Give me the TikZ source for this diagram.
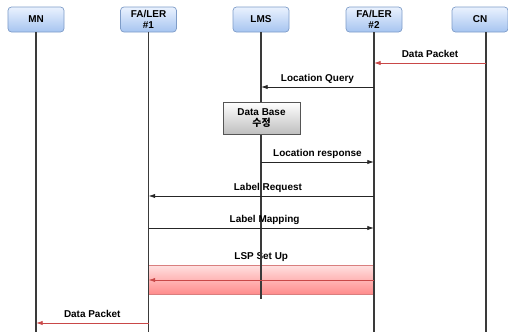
\documentclass[tikz,border=0pt]{standalone}
\usepackage{fontspec}
\setmainfont{Liberation Sans}
\newfontfamily\krfont{Noto Sans CJK KR}
\usetikzlibrary{arrows.meta, positioning, calc}
\definecolor{cblue}{HTML}{7E9CC8}
\definecolor{cbluetop}{HTML}{EAF2FE}
\definecolor{cbluebot}{HTML}{A6C4F0}
\definecolor{cline}{HTML}{3A3A3A}
\definecolor{cred}{HTML}{C94848}
\definecolor{cgrey}{HTML}{555555}
\tikzset{
  every picture/.style={font=\bfseries\fontsize{8.5}{10}\selectfont},
  head/.style={draw=cblue, top color=cbluetop, bottom color=cbluebot, rounded corners=3pt, align=center,
    minimum width=1.68cm, minimum height=0.75cm, inner sep=1pt, line width=0.6pt},
  life/.style={draw=cline, line width=1.6pt},
  msg/.style={-{Latex[length=2mm, width=1.3mm]}, draw=black!85, line width=0.7pt},
  redmsg/.style={msg, draw=cred},
  lbl/.style={above=1pt, text height=1.5ex, text depth=0.25ex, inner sep=2pt},
  dbbox/.style={draw=cgrey, top color=white, bottom color=black!25, align=center,
    minimum width=2.31cm, minimum height=0.96cm, inner sep=1pt, line width=0.6pt},
  band/.style={draw=cred!70, top color=red!12, bottom color=red!45, line width=0.6pt},
}

\begin{document}
\begin{tikzpicture}[x=0.03cm, y=-0.03cm]
  \useasboundingbox (0,0) rectangle (508,332);
  % lifeline heads
  \foreach \nm/\x/\txt in {mn/36/MN, fa1/148.5/{FA/LER\\\#1}, lms/261/LMS, fa2/374/{FA/LER\\\#2}, cn/480/CN}
    \node[head] (\nm) at (\x,19.5) {\txt};
  \coordinate (cnl) at ([xshift=0.18cm]cn.south);
  % rows
  \coordinate (bot) at (0,332);
  \coordinate (lmsend) at (0,299);
  \foreach \r/\y in {r1/63, r2/87, r3/162, r4/196, r5/228, r6/280, r7/323, bt/265, bb/294}
    \coordinate (\r) at (0,\y);
  % LSP band behind the lifelines
  \draw[band] (fa1 |- bt) rectangle (fa2 |- bb);
  \node[lbl] (lsp) at ($(fa1 |- bt)!0.5!(fa2 |- bt)$) {LSP Set Up};
  % lifelines
  \foreach \nm in {mn, fa1, fa2}
    \draw[life] (\nm.south) -- (\nm |- bot);
  \draw[life] (lms.south) -- (lms |- lmsend);
  \draw[life] (cnl) -- (cnl |- bot);
  \node[dbbox] (db) at (261.5,118) {Data Base\\{\krfont 수정}};
  % messages
  \draw[redmsg] (cnl |- r1) -- node[lbl] {Data Packet} (fa2 |- r1);
  \draw[msg] (fa2 |- r2) -- node[lbl] {Location Query} (lms |- r2);
  \draw[msg] (lms |- r3) -- node[lbl] {Location response} (fa2 |- r3);
  \draw[msg] (fa2 |- r4) -- node[lbl, xshift=0.2cm] {Label Request} (fa1 |- r4);
  \draw[msg] (fa1 |- r5) -- node[lbl, xshift=0.1cm] {Label Mapping} (fa2 |- r5);
  \draw[redmsg] (fa2 |- r6) -- (fa1 |- r6);
  \draw[redmsg] (fa1 |- r7) -- node[lbl] {Data Packet} (mn |- r7);
\end{tikzpicture}
\end{document}
